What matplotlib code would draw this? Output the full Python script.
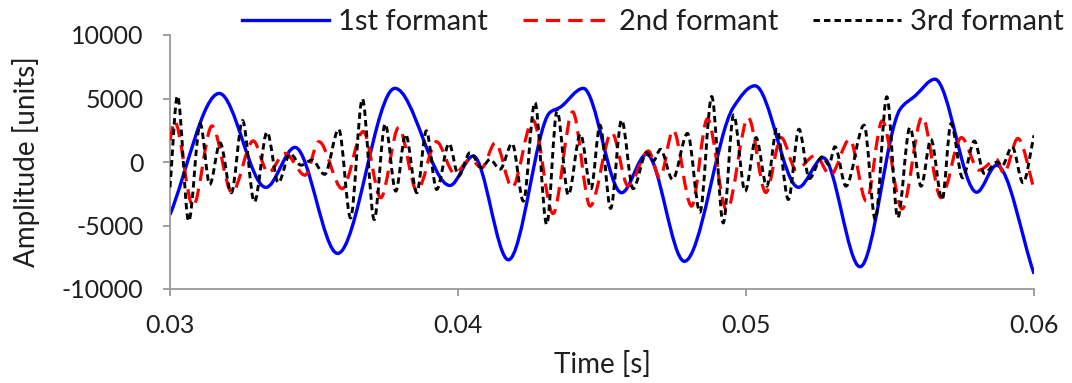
import numpy as np
import matplotlib
matplotlib.use("Agg")
import matplotlib.pyplot as plt
from matplotlib.path import Path
from matplotlib.patches import PathPatch
from matplotlib.lines import Line2D

# ── data (time [s], amplitude [units]) ──────────────────────────────────────
# extrema (plus a few shoulder points) of each formant waveform

t_f1 = [0.03000, 0.03171, 0.03333, 0.03434, 0.03582, 0.03781, 0.03972, 0.04053,
        0.04175, 0.04319, 0.04354, 0.04435, 0.04568, 0.04655, 0.04786, 0.04956,
        0.05031, 0.05182, 0.05268, 0.05396, 0.05535, 0.05587, 0.05656, 0.05801,
        0.05870, 0.06000]
a_f1 = [-4150, 5400, -2000, 1150, -7200, 5800, -1850, 470,
        -7700, 3900, 4300, 5800, -2420, 610, -7820, 4300,
        6000, -1990, 330, -8250, 4150, 5200, 6520, -2380,
        -260, -8800]

t_f2 = [0.03000, 0.03016, 0.03080, 0.03146, 0.03215, 0.03289, 0.03341, 0.03399,
        0.03469, 0.03517, 0.03598, 0.03671, 0.03732, 0.03794, 0.03858, 0.03925,
        0.03988, 0.04043, 0.04082, 0.04130, 0.04188, 0.04260, 0.04330, 0.04398,
        0.04459, 0.04534, 0.04591, 0.04661, 0.04701, 0.04747, 0.04811, 0.04866,
        0.04933, 0.05008, 0.05069, 0.05122, 0.05174, 0.05241, 0.05293, 0.05360,
        0.05418, 0.05473, 0.05542, 0.05612, 0.05677, 0.05748, 0.05809, 0.05870,
        0.05895, 0.05944, 0.06000]
a_f2 = [1700, 3200, -3470, 2840, -2400, 1660, -840, 680,
        -1040, 1600, -2100, 2400, -2810, 2710, -2290, 1600,
        -900, 210, -450, 1520, -2000, 3300, -4060, 3950,
        -3470, 2310, -1900, 870, -1240, 2500, -3470, 3400,
        -3800, 3490, -2400, 1920, -600, 520, -1040, 1780,
        -3080, 3240, -3700, 3550, -2810, 1920, -640, 200,
        -900, 1850, -2100]

t_f3 = [0.03000, 0.03026, 0.03065, 0.03105, 0.03138, 0.03174, 0.03213, 0.03252,
        0.03293, 0.03337, 0.03376, 0.03417, 0.03455, 0.03493, 0.03537, 0.03586,
        0.03627, 0.03668, 0.03709, 0.03747, 0.03784, 0.03818, 0.03857, 0.03890,
        0.03926, 0.03969, 0.04002, 0.04042, 0.04082, 0.04111, 0.04146, 0.04188,
        0.04227, 0.04267, 0.04308, 0.04344, 0.04383, 0.04425, 0.04462, 0.04493,
        0.04530, 0.04568, 0.04608, 0.04655, 0.04679, 0.04703, 0.04745, 0.04797,
        0.04840, 0.04881, 0.04921, 0.04957, 0.04997, 0.05035, 0.05072, 0.05107,
        0.05147, 0.05184, 0.05220, 0.05264, 0.05288, 0.05309, 0.05347, 0.05410,
        0.05449, 0.05489, 0.05527, 0.05569, 0.05608, 0.05642, 0.05681, 0.05712,
        0.05752, 0.05793, 0.05827, 0.05872, 0.05889, 0.05924, 0.05962, 0.06000]
a_f3 = [-2000, 5200, -4650, 3000, -1760, 1500, -2420, 3260,
        -3140, 2350, -1630, 650, -250, 150, -970, 2580,
        -4400, 4970, -4520, 3000, -2290, 2180, -2420, 2450,
        -2160, 1450, -1100, 740, -450, 210, -570, 1450,
        -3080, 4680, -4920, 4020, -2600, 2200, -2100, 2900,
        -3650, 3300, -2100, 740, 100, 1000, -1370, 2250,
        -3950, 5150, -4790, 3700, -2300, 1920, -1900, 2580,
        -2950, 2580, -1300, 400, -200, 1200, -1900, 2900,
        -4520, 5130, -4390, 2710, -1900, 1780, -2950, 3030,
        -1240, 1650, -900, 0, -300, 1200, -1630, 2100]

series_labels = ["1st formant", "2nd formant", "3rd formant"]
x_ticks = [0.03, 0.04, 0.05, 0.06]
x_tick_labels = ["0.03", "0.04", "0.05", "0.06"]
y_ticks = [-10000, -5000, 0, 5000, 10000]
y_tick_labels = ["-10000", "-5000", "0", "5000", "10000"]

FONT = ["Lato", "DejaVu Sans"]
TEXT = "#1e1e1e"
AXIS = "#9a9a9a"


def smooth_path(t, y):
    """Cubic Bezier path through the points (Excel-like smoothed line)."""
    t = np.asarray(t, dtype=float)
    y = np.asarray(y, dtype=float)
    d = np.diff(y) / np.diff(t)
    m = np.zeros_like(y)
    m[0], m[-1] = d[0], d[-1]
    for i in range(1, len(y) - 1):
        if d[i - 1] * d[i] > 0:
            m[i] = 2.0 / (1.0 / d[i - 1] + 1.0 / d[i])
    verts = [(t[0], y[0])]
    codes = [Path.MOVETO]
    for i in range(len(t) - 1):
        h = t[i + 1] - t[i]
        verts += [(t[i] + h / 3, y[i] + m[i] * h / 3),
                  (t[i + 1] - h / 3, y[i + 1] - m[i + 1] * h / 3),
                  (t[i + 1], y[i + 1])]
        codes += [Path.CURVE4] * 3
    return Path(verts, codes)


styles = [
    dict(color="#0000ff", lw=2.4, ls="-"),
    dict(color="#ff0000", lw=2.3, ls=(0, (4.5, 2.5))),
    dict(color="#000000", lw=2.1, ls=(0, (2.2, 1.4))),
]

fig = plt.figure(figsize=(10.72, 3.83), dpi=100)
ax = fig.add_axes([170 / 1072, 1 - 289 / 383, 864 / 1072, 254 / 383])

handles = []
for k, (t, a) in enumerate([(t_f1, a_f1), (t_f2, a_f2), (t_f3, a_f3)]):
    st = styles[k]
    patch = PathPatch(smooth_path(t, a), fill=False, edgecolor=st["color"],
                      lw=st["lw"], linestyle=st["ls"], zorder=2 + k)
    ax.add_patch(patch)
    handles.append(Line2D([], [], color=st["color"], lw=st["lw"], ls=st["ls"]))

ax.set_xlim(0.03, 0.06)
ax.set_ylim(-10000, 10000)
ax.set_xticks(x_ticks)
ax.set_xticklabels(x_tick_labels)
ax.set_yticks(y_ticks)
ax.set_yticklabels(y_tick_labels)

for s in ["top", "right"]:
    ax.spines[s].set_visible(False)
for s in ["left", "bottom"]:
    ax.spines[s].set_color(AXIS)
    ax.spines[s].set_linewidth(1.3)

ax.tick_params(axis="both", direction="out", length=5, width=1.3, color=AXIS,
               labelcolor=TEXT, labelsize=18)
ax.tick_params(axis="x", pad=13)
ax.tick_params(axis="y", pad=14)
for lab in ax.get_xticklabels() + ax.get_yticklabels():
    lab.set_family(FONT)

ax.set_xlabel("Time [s]", fontsize=20, family=FONT, color=TEXT, labelpad=10)
ax.set_ylabel("Amplitude [units]", fontsize=20, family=FONT, color=TEXT, labelpad=16)

fig.legend(handles, series_labels, loc="center",
           bbox_to_anchor=((243 + 1062) / 2 / 1072, 1 - 22 / 383),
           ncol=3, frameon=False, borderpad=0, handlelength=3.0,
           handletextpad=0.3, columnspacing=1.2,
           prop=dict(family=FONT, size=21), labelcolor=TEXT)

fig.savefig("out.png", dpi=100)
